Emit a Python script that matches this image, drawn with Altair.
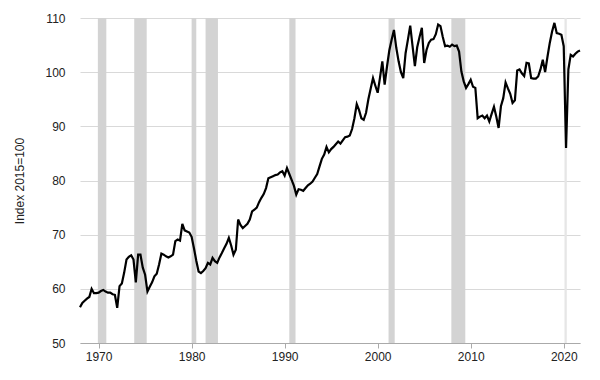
import altair as alt
import pandas as pd

start_year = 1968  # quarterly observations, Q1 1968 onwards

vals_1968_1979 = [
    56.6, 57.4, 57.8, 58.2,
    58.5, 60.0, 59.2, 59.2,
    59.3, 59.6, 59.8, 59.5,
    59.3, 59.3, 59.0, 58.9,
    56.5, 60.5, 61.0, 63.0,
    65.4, 65.9, 66.2, 65.4,
    61.2, 66.3, 66.3, 63.9,
    62.6, 59.5, 60.4, 61.2,
    62.3, 62.8, 64.5, 66.5,
    66.3, 66.0, 65.8, 66.0,
    66.3, 68.8, 69.1, 68.9,
    72.0, 70.8, 70.6, 70.4,
]
vals_1980s = [
    69.6, 67.5, 65.2, 63.2,
    62.9, 63.3, 63.8, 64.8,
    64.5, 65.7, 65.1, 64.8,
    65.8, 66.6, 67.5, 68.3,
    69.4, 68.0, 66.3, 67.2,
    72.8, 71.8, 71.2, 71.6,
    72.0, 72.8, 74.3, 74.6,
    75.0, 76.0, 76.8, 77.5,
    78.6, 80.4, 80.6, 80.8,
    81.0, 81.1, 81.5, 81.7,
]
vals_1990s = [
    80.9, 82.3, 81.2, 80.1,
    79.0, 77.4, 78.4, 78.3,
    78.1, 78.6, 79.1, 79.4,
    79.8, 80.5, 81.2, 82.6,
    84.0, 84.8, 86.2, 85.2,
    85.8, 86.2, 86.7, 87.2,
    86.8, 87.4, 88.0, 88.1,
    88.3, 89.5, 91.5, 94.1,
    93.0, 91.5, 91.2, 92.5,
    95.0, 97.0, 98.9, 97.5,
]
vals_2000s = [
    96.2, 99.0, 102.0, 97.7,
    101.0, 104.0, 106.0, 107.8,
    104.5, 102.0, 100.0, 98.9,
    103.5, 106.0, 108.6, 104.8,
    101.1, 104.6, 106.5, 108.2,
    101.7, 104.1, 105.4, 106.0,
    106.1, 107.0, 108.8, 108.5,
    106.5, 104.8, 104.9, 104.7,
    105.1, 104.8, 104.9, 103.8,
    100.1, 98.3, 97.1, 97.8,
]
vals_2010s = [
    98.6, 97.3, 97.1, 91.5,
    91.8, 92.0, 91.5, 92.0,
    90.9, 92.3, 93.6, 91.8,
    89.7, 93.7, 95.2, 98.1,
    97.0, 96.0, 94.3, 94.8,
    100.3, 100.5, 99.8, 99.3,
    101.7, 101.6, 98.9, 98.8,
    98.8, 99.2, 100.5, 102.3,
    100.0, 102.8, 105.4, 107.5,
    109.1, 107.2, 107.1, 106.9,
]
vals_2020s = [
    104.8, 86.0, 100.5, 103.2,
    102.9, 103.4, 103.8, 104.0,
]

rec_start = [1969.92, 1973.83, 1980.0, 1981.5, 1990.5, 2001.17, 2007.92, 2020.08]
rec_end = [1970.83, 1975.17, 1980.5, 1982.83, 1991.17, 2001.83, 2009.42, 2020.33]
rec_color = ["#d3d3d3"] * 7 + ["#e6e6e6"]

x_ticks = [1970, 1980, 1990, 2000, 2010, 2020]
y_ticks = [50, 60, 70, 80, 90, 100, 110]

values = vals_1968_1979 + vals_1980s + vals_1990s + vals_2000s + vals_2010s + vals_2020s
dates = [start_year + i / 4 for i in range(len(values))]

df = pd.DataFrame({"date": dates, "value": values})
rec = pd.DataFrame({"start": rec_start, "end": rec_end, "color": rec_color})

x_scale = alt.Scale(domain=[dates[0], dates[-1]], nice=False, zero=False)
y_scale = alt.Scale(domain=[50, 110], nice=False, zero=False)

x_axis = alt.Axis(
    values=x_ticks, format="d", grid=False, title=None,
    domainColor="#aaaaaa", tickColor="#aaaaaa", tickSize=5,
    labelPadding=3, labelFontSize=12, labelColor="#222222",
)

bands = alt.Chart(rec).mark_rect().encode(
    x=alt.X("start:Q", scale=x_scale, axis=x_axis),
    x2="end:Q",
    color=alt.Color("color:N", scale=None),
)

line = alt.Chart(df).mark_line(color="black", strokeWidth=2.2).encode(
    x=alt.X("date:Q", scale=x_scale, axis=x_axis),
    y=alt.Y(
        "value:Q",
        scale=y_scale,
        axis=alt.Axis(
            values=y_ticks, grid=True, gridColor="#d9d9d9", domain=False,
            ticks=False, labelPadding=15, labelFontSize=12, labelColor="#222222",
            title="Index 2015=100", titleFontSize=12, titleFontWeight="normal",
            titleColor="#222222", titlePadding=18,
        ),
    ),
)

chart = alt.layer(bands, line).properties(
    width=500,
    height=325,
    autosize=alt.AutoSizeParams(type="none"),
    padding={"left": 72, "top": 10, "right": 12, "bottom": 30},
).configure(font="Arial").configure_view(stroke=None)

chart.save("out.html", embed_options={"renderer": "svg", "actions": False})
